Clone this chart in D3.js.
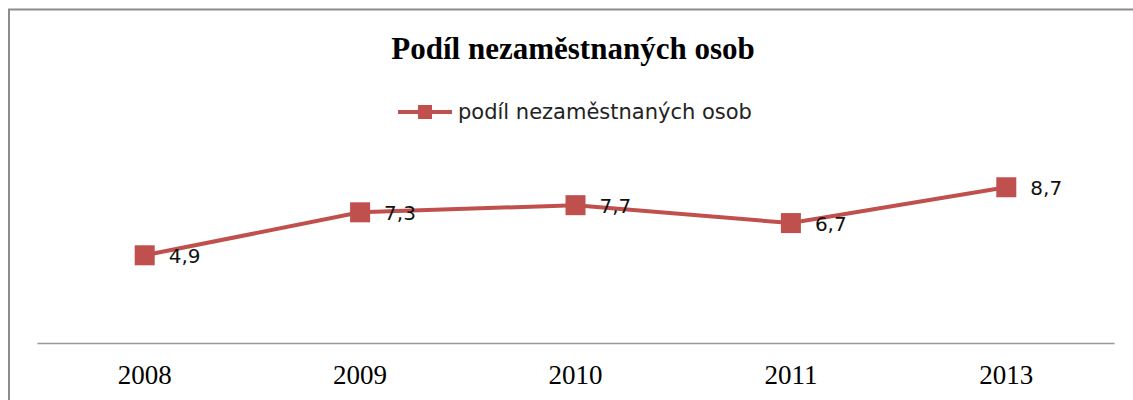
<!DOCTYPE html>
<html>
<head>
<meta charset="utf-8">
<script src="https://cdn.jsdelivr.net/npm/d3@7"></script>
<style>
  body { margin: 0; background: #fff; }
  svg { display: block; }
</style>
</head>
<body>
<svg id="chart" width="1133" height="400"></svg>
<script>
var years = ['2008', '2009', '2010', '2011', '2013'];
var values = [4.9, 7.3, 7.7, 6.7, 8.7];
var labels = ['4,9', '7,3', '7,7', '6,7', '8,7'];
var seriesName = 'podíl nezaměstnaných osob';
var title = 'Podíl nezaměstnaných osob';

var red = '#C0504D';
var svg = d3.select('#chart');

// chart frame (only left and top edges visible in the crop)
svg.append('path')
  .attr('d', 'M9,400 V9.5 H1133')
  .attr('fill', 'none')
  .attr('stroke', '#8c8c8c')
  .attr('stroke-width', 2);

var x = d3.scaleBand().domain(years).range([37, 1114]);
var y = d3.scaleLinear().domain([0, 10]).range([343, 164]);

svg.append('text')
  .attr('x', 573).attr('y', 59)
  .attr('text-anchor', 'middle')
  .attr('font-family', 'Liberation Serif, Times New Roman, serif')
  .attr('font-weight', 'bold')
  .attr('font-size', 31)
  .text(title);

// legend
var leg = svg.append('g').attr('transform', 'translate(398,112)');
leg.append('line').attr('x1', 0).attr('x2', 54)
  .attr('stroke', red).attr('stroke-width', 4);
leg.append('rect').attr('x', 20).attr('y', -7).attr('width', 14).attr('height', 14)
  .attr('fill', red);
leg.append('text').attr('x', 60).attr('y', 0).attr('dy', '0.35em')
  .attr('font-family', 'DejaVu Sans, Verdana, sans-serif')
  .attr('font-size', 21)
  .attr('fill', '#222')
  .text(seriesName);

// x axis
var xAxis = svg.append('g')
  .attr('transform', 'translate(0,343)')
  .call(d3.axisBottom(x).tickSize(0).tickPadding(22));
xAxis.select('.domain').attr('stroke', '#999').attr('stroke-width', 1.5);
xAxis.selectAll('text')
  .attr('font-family', 'Liberation Serif, Times New Roman, serif')
  .attr('font-size', 27)
  .attr('fill', '#000');

var cx = function (d, i) { return x(years[i]) + x.bandwidth() / 2; };

svg.append('path')
  .datum(values)
  .attr('fill', 'none')
  .attr('stroke', red)
  .attr('stroke-width', 4)
  .attr('d', d3.line().x(cx).y(function (d) { return y(d); }));

svg.selectAll('rect.pt')
  .data(values).enter().append('rect')
  .attr('class', 'pt')
  .attr('x', function (d, i) { return cx(d, i) - 10; })
  .attr('y', function (d) { return y(d) - 10; })
  .attr('width', 20).attr('height', 20)
  .attr('fill', red);

svg.selectAll('text.lbl')
  .data(values).enter().append('text')
  .attr('class', 'lbl')
  .attr('x', function (d, i) { return cx(d, i) + 24; })
  .attr('y', function (d) { return y(d) + 1; })
  .attr('dy', '0.35em')
  .attr('font-family', 'DejaVu Sans, Verdana, sans-serif')
  .attr('font-size', 20)
  .attr('fill', '#111')
  .text(function (d, i) { return labels[i]; });
</script>
</body>
</html>
